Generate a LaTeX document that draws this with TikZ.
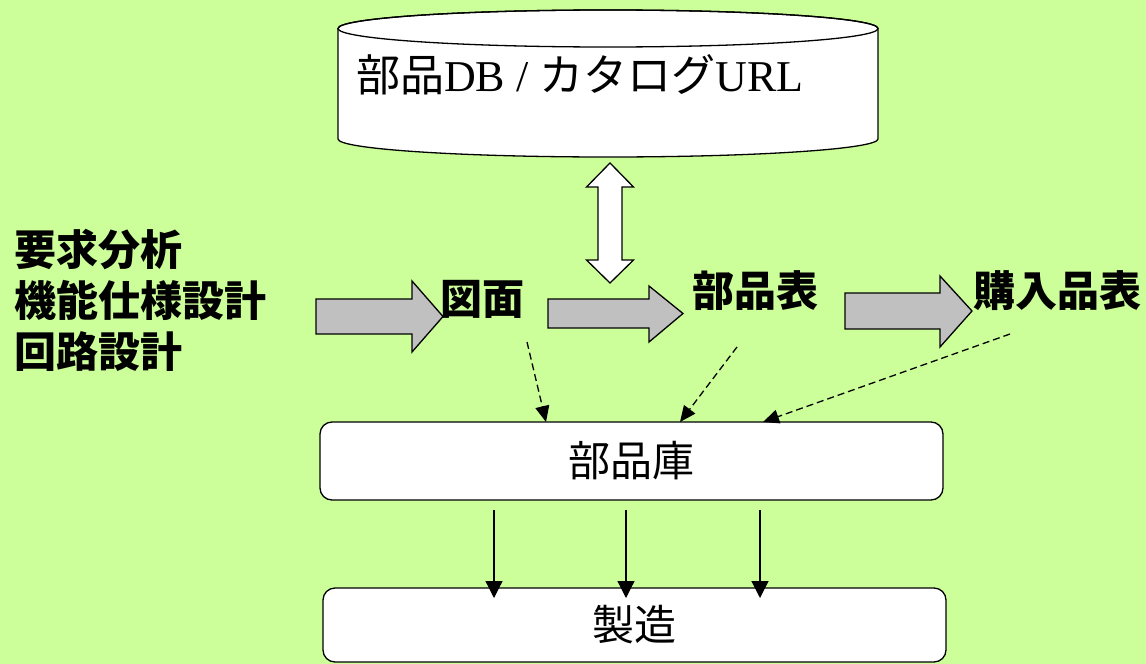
\documentclass[tikz,border=0pt]{standalone}
\usepackage{fontspec}
\setmainfont{Liberation Serif}
\newfontfamily\jp{Noto Sans CJK JP}
\usetikzlibrary{arrows.meta}
\definecolor{bg}{HTML}{CCFF99}
\definecolor{ga}{HTML}{C0C0C0}
\tikzset{
  outl/.style={draw=black, line width=1.3pt, line join=miter},
  blockarr/.style={outl, fill=ga},
  dblarr/.style={outl, fill=white},
  boxnode/.style={draw=black, line width=1.3pt, fill=white, rounded corners=12pt, inner sep=0pt,
     font=\jp\fontsize{42}{50}\selectfont},
  boldlbl/.style={inner sep=0pt, font=\jp\bfseries\fontsize{42}{50}\selectfont},
  dasharr/.style={line width=1.3pt, dash pattern=on 7pt off 4pt, -{Triangle[length=16pt,width=14pt]}},
  solidarr/.style={line width=1.2pt, -{Triangle[length=17pt,width=17pt]}}
}
\begin{document}
\begin{tikzpicture}[x=1pt,y=-1pt]
\fill[bg] (0,0) rectangle (1146,664);
\useasboundingbox (0,0) rectangle (1146,664);

% cylinder
\path[outl, fill=white] (338,28.5) -- (338,139) arc[start angle=180, end angle=0, x radius=270, y radius=18]
   -- (878,28.5) arc[start angle=0, end angle=-180, x radius=270, y radius=18.5] -- cycle;
\draw[outl] (608,28.5) ellipse[x radius=270, y radius=18.5];
\node[anchor=base west, inner sep=0pt, font=\fontsize{44}{52}\selectfont] (db) at (356,91)
  {{\jp 部品}DB / {\jp カタログ}URL};

% double arrow
\path[dblarr] (610,163) -- (633.5,187) -- (622,187) -- (622,260) -- (633.5,260) -- (610,283)
  -- (586.5,260) -- (598,260) -- (598,187) -- (586.5,187) -- cycle;

% left text
\node[boldlbl, anchor=base west] (l1) at (14,265) {要求分析};
\node[boldlbl, anchor=base west] (l2) at (14,316) {機能仕様設計};
\node[boldlbl, anchor=base west] (l3) at (14,367) {回路設計};

% labels
\node[boldlbl] (zumen) at (482,299) {図面};
\node[boldlbl] (buhin) at (755,291) {部品表};
\node[boldlbl] (kounyu) at (1057,291) {購入品表};

% block arrows
\path[blockarr] (316,299) -- (412,299) -- (412,281) -- (443,316.5) -- (412,352) -- (412,334) -- (316,334) -- cycle;
\path[blockarr] (548,299) -- (649,299) -- (649,286) -- (683,313.5) -- (649,342) -- (649,328) -- (548,328) -- cycle;
\path[blockarr] (845,293) -- (940,293) -- (940,276) -- (972,311) -- (940,347) -- (940,329) -- (845,329) -- cycle;

% boxes
\node[boxnode, minimum width=623pt, minimum height=78pt] (ko) at (631.5,461) {部品庫};
\node[boxnode, minimum width=623pt, minimum height=74pt] (seizo) at (634.5,625) {製造};

% dashed arrows
\coordinate (d1s) at (527,342);
\coordinate (d2s) at (737,347);
\coordinate (d3s) at (1010,334);
\coordinate (d1e) at (546,422);
\coordinate (d2e) at (680,422);
\coordinate (d3e) at (763,422);
\draw[dasharr] (d1s) -- (d1e);
\draw[dasharr] (d2s) -- (d2e);
\draw[dasharr] (d3s) -- (d3e);

% solid arrows
\foreach \xx/\nm in {494/a,626/b,760/c}{
  \coordinate (s\nm) at (\xx,510);
  \coordinate (e\nm) at (\xx,598);
  \draw[solidarr] (s\nm) -- (e\nm);
}
\end{tikzpicture}
\end{document}
